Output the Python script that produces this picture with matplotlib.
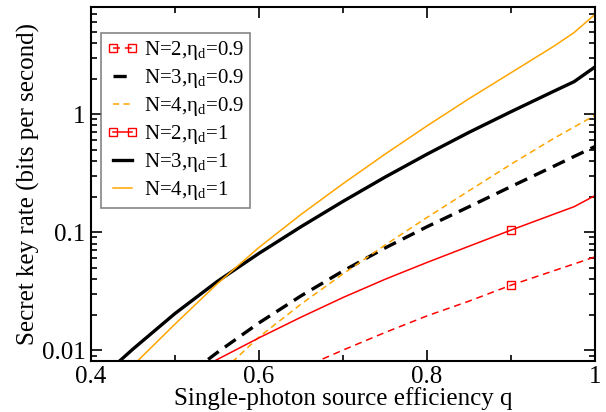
import matplotlib
matplotlib.use("Agg")
import matplotlib.pyplot as plt
from matplotlib.ticker import FixedLocator, FixedFormatter, LogLocator, NullFormatter, MultipleLocator

plt.rcParams['font.family'] = ['Liberation Serif', 'DejaVu Serif']
plt.rcParams['mathtext.fontset'] = 'custom'
plt.rcParams['mathtext.rm'] = 'Liberation Serif'
plt.rcParams['mathtext.it'] = 'Liberation Serif:italic'
plt.rcParams['lines.scale_dashes'] = False

# Source efficiency grid and secret key rates (bits per second)
q = [0.40, 0.45, 0.50, 0.55, 0.60, 0.65, 0.70, 0.75, 0.80, 0.85, 0.90, 0.95, 0.975, 1.0]

rate_n2_eta09 = [None, None, None, None, None, 0.0070, 0.0100, 0.0141, 0.0195, 0.0260, 0.0355, 0.0468, 0.0537, 0.0617]
rate_n3_eta09 = [None, None, 0.0051, 0.0095, 0.0170, 0.0288, 0.0468, 0.0733, 0.111, 0.164, 0.243, 0.359, 0.437, 0.531]
rate_n4_eta09 = [None, None, None, 0.0060, 0.0129, 0.0245, 0.0442, 0.0776, 0.133, 0.224, 0.376, 0.617, 0.776, 0.977]
rate_n2_eta1 = [None, None, 0.0053, 0.0083, 0.0127, 0.0190, 0.0279, 0.0398, 0.0553, 0.0759, 0.104, 0.141, 0.164, 0.204]
rate_n3_eta1 = [0.0049, 0.0102, 0.0204, 0.038, 0.066, 0.111, 0.182, 0.292, 0.457, 0.70, 1.047, 1.55, 1.88, 2.51]
rate_n4_eta1 = [0.0032, 0.0074, 0.0166, 0.0363, 0.0741, 0.141, 0.257, 0.457, 0.794, 1.35, 2.24, 3.72, 4.9, 7.0]

legend_labels = [r'N=2,η$_\mathrm{d}$=0.9', r'N=3,η$_\mathrm{d}$=0.9', r'N=4,η$_\mathrm{d}$=0.9',
                 r'N=2,η$_\mathrm{d}$=1', r'N=3,η$_\mathrm{d}$=1', r'N=4,η$_\mathrm{d}$=1']

xticks = [0.4, 0.6, 0.8, 1.0]
xticklabels = ['0.4', '0.6', '0.8', '1']
yticks = [0.01, 0.1, 1]
yticklabels = ['0.01', '0.1', '1']
marker_q = 0.9


def series(values):
    xs = [x for x, v in zip(q, values) if v is not None]
    ys = [v for v in values if v is not None]
    return xs, ys


fig = plt.figure(figsize=(6.06, 4.12), dpi=100)
ax = fig.add_axes([0.150, 0.124, 0.832, 0.859])

styles = [
    dict(color='#ff0000', lw=1.1, dashes=(5, 3.5), marker='s', mfc='none', mec='#ff0000', ms=6, mew=1.0),
    dict(color='black', lw=2.4, dashes=(9.5, 5.5)),
    dict(color='#ffa500', lw=1.1, dashes=(4.5, 3)),
    dict(color='#ff0000', lw=1.1, marker='s', mfc='none', mec='#ff0000', ms=6, mew=1.0),
    dict(color='black', lw=2.4),
    dict(color='#ffa500', lw=1.1),
]
data = [rate_n2_eta09, rate_n3_eta09, rate_n4_eta09, rate_n2_eta1, rate_n3_eta1, rate_n4_eta1]

for vals, st, lab in zip(data, styles, legend_labels):
    xs, ys = series(vals)
    kw = dict(st)
    if 'marker' in kw:
        kw['markevery'] = [xs.index(marker_q)]
    ax.plot(xs, ys, label=lab, **kw)

ax.set_yscale('log')
ax.set_xlim(0.4, 1.0)
ax.set_ylim(0.0081, 8.07)

ax.xaxis.set_major_locator(FixedLocator(xticks))
ax.xaxis.set_major_formatter(FixedFormatter(xticklabels))
ax.xaxis.set_minor_locator(MultipleLocator(0.1))
ax.yaxis.set_major_locator(FixedLocator(yticks))
ax.yaxis.set_major_formatter(FixedFormatter(yticklabels))
ax.yaxis.set_minor_locator(LogLocator(base=10, subs=range(2, 10)))
ax.yaxis.set_minor_formatter(NullFormatter())

ax.tick_params(which='both', direction='in', top=True, right=True, width=1.2, labelsize=18, pad=4)
ax.tick_params(which='major', length=8)
ax.tick_params(which='minor', length=4.5)
for sp in ax.spines.values():
    sp.set_linewidth(1.5)

ax.set_xlabel('Single-photon source efficiency q', fontsize=18, labelpad=-1)
ax.set_ylabel('Secret key rate (bits per second)', fontsize=18, labelpad=1)

leg = ax.legend(loc='upper left', bbox_to_anchor=(0.02, 0.927), borderaxespad=0,
                fontsize=15, numpoints=2, handlelength=1.5, handletextpad=0.25,
                labelspacing=0.24, borderpad=0.3, fancybox=False, frameon=True)
leg.get_frame().set_edgecolor('#666666')
leg.get_frame().set_linewidth(1.2)

fig.savefig('out.png', dpi=100)
